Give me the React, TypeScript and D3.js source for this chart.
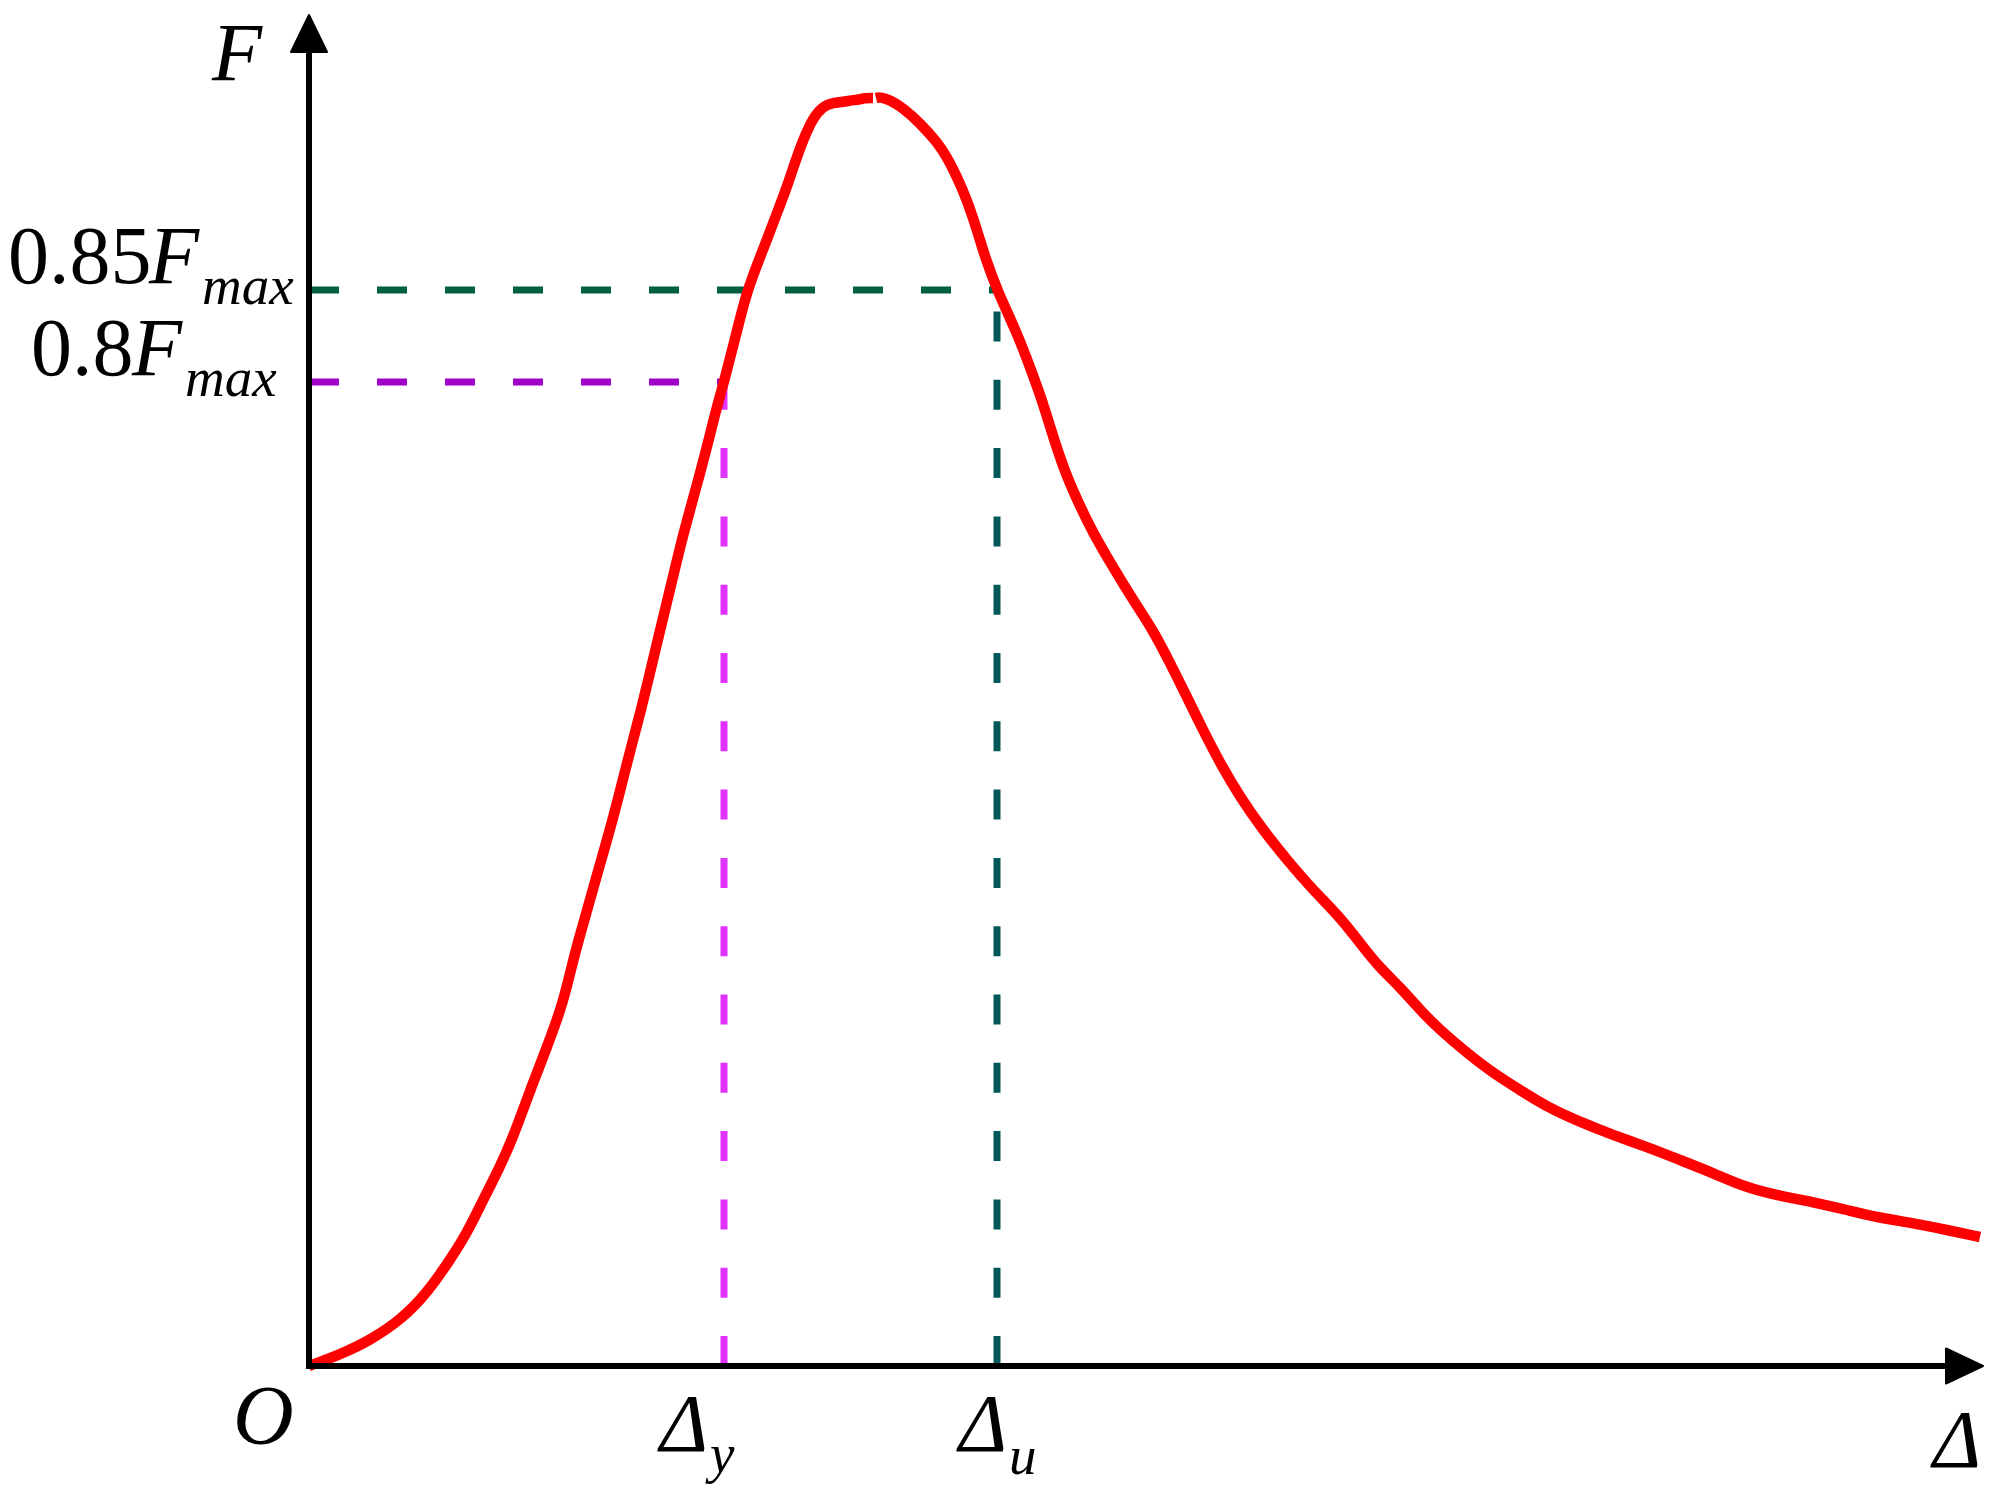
import React from "react";
import * as d3 from "d3";

// Displacement (arbitrary units) and force (arbitrary units, Fmax ≈ 126.9); null = small break in the drawn curve
const dispVals = [0, 3.0, 6.2, 9.4, 11.8, 14.1, 15.8, 17.4, 19.1, 20.4, 21.4, 22.4, 23.3, 25.3, 26.1, 26.95, 27.9, 28.85, 29.8, 30.7, 31.55, 32.4, 33.2, 34.0, 34.8, 35.6, 36.4, 37.2, 38.1, 39.0, 39.9, 40.7, 41.5, 42.7, 43.8, 45.4, 47.1, 47.8, 49.1, 50.4, 51.4, 52.1, 54.8, 55.6, 56.4, 56.55, 56.7, 57.1, 58.1, 59.4, 61.1, 62.8, 63.8, 64.8, 65.8, 66.8, 67.6, 68.8, 70.8, 72.1, 73.3, 74.3, 75.4, 76.8, 78.4, 80.4, 82.4, 84.4, 86.1, 87.8, 89.4, 91.1, 93.1, 95.4, 97.8, 100.4, 103.1, 105.4, 107.1, 109.1, 111.1, 113.1, 115.8, 118.4, 121.1, 123.8, 127.1, 130.4, 133.8, 137.1, 140.4, 143.8, 147.1, 150.4, 153.8, 157.1, 160.4, 163.8, 167.1];
const forceVals: (number | null)[] = [0, 1.1, 2.6, 4.8, 7.3, 10.6, 13.3, 16.6, 19.9, 22.9, 25.6, 28.3, 30.6, 35.9, 39.3, 42.6, 45.9, 49.3, 52.6, 55.9, 59.3, 62.6, 65.6, 68.9, 72.3, 75.6, 78.9, 82.3, 85.6, 88.9, 92.3, 95.6, 98.4, 103.1, 107.6, 111.6, 116.1, 117.9, 121.9, 124.9, 125.9, 126.3, 126.6, 126.8, 126.8, null, 126.8, 126.9, 126.6, 125.8, 124.3, 122.4, 120.9, 118.9, 116.6, 113.6, 110.9, 107.6, 103.3, 99.9, 96.6, 93.3, 89.9, 86.6, 83.3, 79.9, 76.6, 73.6, 70.3, 66.9, 63.6, 60.3, 56.9, 53.6, 50.6, 47.6, 44.9, 41.9, 39.8, 37.9, 35.6, 33.6, 31.3, 29.3, 27.6, 25.9, 24.4, 23.1, 21.9, 20.6, 19.3, 17.8, 17.0, 16.4, 15.6, 14.8, 14.3, 13.6, 12.9];

const xDomain = [0, 167.4];
const yDomain = [0, 126.9];
const yAxisTop = 135.1;

// Reference levels: [0.85Fmax, 0.8Fmax] and displacements [Δu, Δy]
const levelNames = ["0.85", "0.8"];
const levelVals = [107.6, 98.4];
const levelDisp = [68.8, 41.5];
const hColors = ["#006040", "#a000c8"];
const vColors = ["#005858", "#e033ff"];
const dispSubs = ["u", "y"];

const FONT = "'Liberation Serif', 'Times New Roman', serif";

export default function App() {
  const W = 2005, H = 1497;
  const x = d3.scaleLinear().domain(xDomain).range([309, 1983]);
  const y = d3.scaleLinear().domain(yDomain).range([1366, 97]);
  const pts = dispVals.map((d, i) => ({ d, f: forceVals[i] }));
  const line = d3
    .line<{ d: number; f: number | null }>()
    .defined((p) => p.f != null)
    .curve(d3.curveBasis)
    .x((p) => x(p.d))
    .y((p) => y(p.f as number));

  const x0 = x(0), y0 = y(0);
  const xEnd = x(xDomain[1]);
  const yTop = y(yAxisTop);

  return (
    <svg width={W} height={H} style={{ position: "absolute", left: 0, top: 0, display: "block", background: "#fff" }}>
      {/* dashed reference lines */}
      {levelVals.map((v, i) => (
        <g key={i}>
          <line x1={x0} x2={x(levelDisp[i])} y1={y(v)} y2={y(v)} stroke={hColors[i]} strokeWidth={7} strokeDasharray="30 38" />
          <line x1={x(levelDisp[i])} x2={x(levelDisp[i])} y1={y0} y2={y(v)} stroke={vColors[i]} strokeWidth={7} strokeDasharray="30 38.3" />
        </g>
      ))}
      {/* curve */}
      <path d={line(pts) || ""} fill="none" stroke="#ff0000" strokeWidth={10.5} strokeLinejoin="round" />
      {/* axes */}
      <line x1={x0} x2={x0} y1={y0 + 3} y2={yTop + 36} stroke="#000" strokeWidth={6} />
      <line x1={x0 - 3} x2={xEnd - 35} y1={y0} y2={y0} stroke="#000" strokeWidth={6} />
      <path d={`M${x0},${yTop} L${x0 - 18},${yTop + 37} L${x0 + 18},${yTop + 37} Z`} fill="#000" stroke="#000" strokeWidth={2} strokeLinejoin="round" />
      <path d={`M${xEnd},${y0} L${xEnd - 37},${y0 - 17.5} L${xEnd - 37},${y0 + 17.5} Z`} fill="#000" stroke="#000" strokeWidth={2} strokeLinejoin="round" />
      {/* axis labels */}
      <text x={x0 - 97} y={yTop + 65} fontFamily={FONT} fontStyle="italic" fontSize={82}>F</text>
      <text x={x0 - 76} y={y0 + 78} fontFamily={FONT} fontStyle="italic" fontSize={84}>O</text>
      <text x={xEnd - 50} y={y0 + 101} fontFamily={FONT} fontStyle="italic" fontSize={82}>Δ</text>
      {/* level labels */}
      {levelVals.map((v, i) => {
        const yy = y(v);
        const isFirst = i === 0;
        const startX = isFirst ? 8 : 31;
        const fX = isFirst ? 149 : 132;
        const maxX = isFirst ? 202 : 185;
        return (
          <g key={"l" + i} fontFamily={FONT}>
            <text x={startX} y={yy - 7} fontSize={82}>{levelNames[i]}</text>
            <text x={fX} y={yy - 7} fontSize={82} fontStyle="italic">F</text>
            <text x={maxX} y={yy + 14} fontSize={55} fontStyle="italic">max</text>
          </g>
        );
      })}
      {/* displacement labels */}
      {levelDisp.map((d, i) => {
        const xx = x(d);
        const dx = i === 0 ? -38 : -64;
        return (
          <g key={"d" + i} fontFamily={FONT} fontStyle="italic">
            <text x={xx + dx} y={y0 + 85} fontSize={82}>Δ</text>
            <text x={xx + dx + 50} y={y0 + (i === 0 ? 108 : 106)} fontSize={55}>{dispSubs[i]}</text>
          </g>
        );
      })}
    </svg>
  );
}
